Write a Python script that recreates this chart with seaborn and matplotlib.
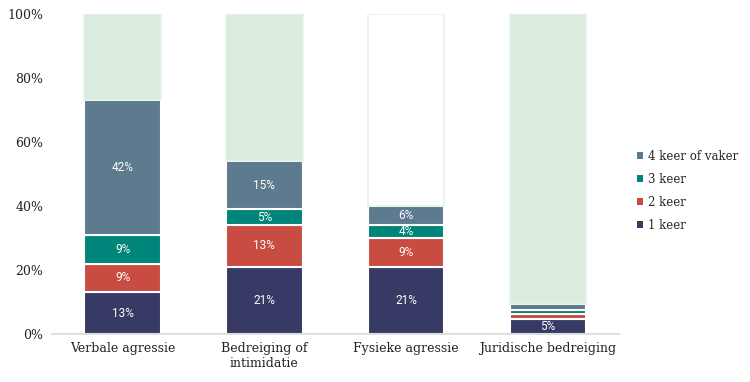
import numpy as np
import pandas as pd
import matplotlib.pyplot as plt
import seaborn as sns
from matplotlib.patches import Patch

# data (percentages)
categories = ["Verbale agressie", "Bedreiging of\nintimidatie", "Fysieke agressie", "Juridische bedreiging"]
keer_1 = [13, 21, 21, 4.6]
keer_2 = [9, 13, 9, 1.6]
keer_3 = [9, 5, 4, 1.2]
keer_4plus = [42, 15, 6, 2.0]
series_names = ["1 keer", "2 keer", "3 keer", "4 keer of vaker"]
colors = ["#363a64", "#c94c42", "#00857a", "#5e7a8e"]
rest_fill = ["#dcede0", "#dcede0", "#ffffff", "#dcede0"]

df = pd.DataFrame({"categorie": categories, "1 keer": keer_1, "2 keer": keer_2,
                   "3 keer": keer_3, "4 keer of vaker": keer_4plus})
df["rest"] = 100 - df[series_names].sum(axis=1)

sns.set_theme(style="white")
plt.rcParams["font.family"] = ["DejaVu Serif"]

fig = plt.figure(figsize=(7.5, 3.82), dpi=100)
ax = fig.add_axes([0.069, 0.126, 0.756, 0.837])

bottom = np.zeros(len(df))
for name, col in zip(series_names, colors):
    sns.barplot(data=df, x="categorie", y=name, color=col, bottom=bottom, width=0.54,
                saturation=1, edgecolor="white", linewidth=1.5, ax=ax)
    bars = ax.containers[-1]
    labels = [f"{v:.0f}%" if v >= 3 else "" for v in df[name]]
    ax.bar_label(bars, labels=labels, label_type="center", color="white",
                 fontsize=8.5, family="Roboto")
    bottom = bottom + df[name].values

# remainder up to 100%
sns.barplot(data=df, x="categorie", y="rest", color="#dcede0", bottom=bottom, width=0.54,
            saturation=1, edgecolor="#e3f3e7", linewidth=1.2, ax=ax)
for patch, fc in zip(ax.containers[-1], rest_fill):
    patch.set_facecolor(fc)

ax.set_xlim(-0.5, 3.5)
ax.set_ylim(0, 100)
ax.set_yticks(range(0, 101, 20))
ax.set_yticklabels([f"{t}%" for t in range(0, 101, 20)])
ax.set_xlabel("")
ax.set_ylabel("")
ax.tick_params(axis="both", labelsize=9, colors="#222222", length=0)
ax.tick_params(axis="y", pad=6)
ax.tick_params(axis="x", pad=6)
for s in ["top", "right", "left"]:
    ax.spines[s].set_visible(False)
ax.spines["bottom"].set_color("#d9d9d9")

handles = [Patch(facecolor=c, edgecolor="none") for c in colors][::-1]
fig.legend(handles, series_names[::-1], loc="center left", bbox_to_anchor=(0.84, 0.5),
           frameon=False, fontsize=8.5, handlelength=0.5, handleheight=0.5,
           handletextpad=0.4, labelspacing=0.85, borderaxespad=0.2)

fig.savefig("out.png", dpi=100)
